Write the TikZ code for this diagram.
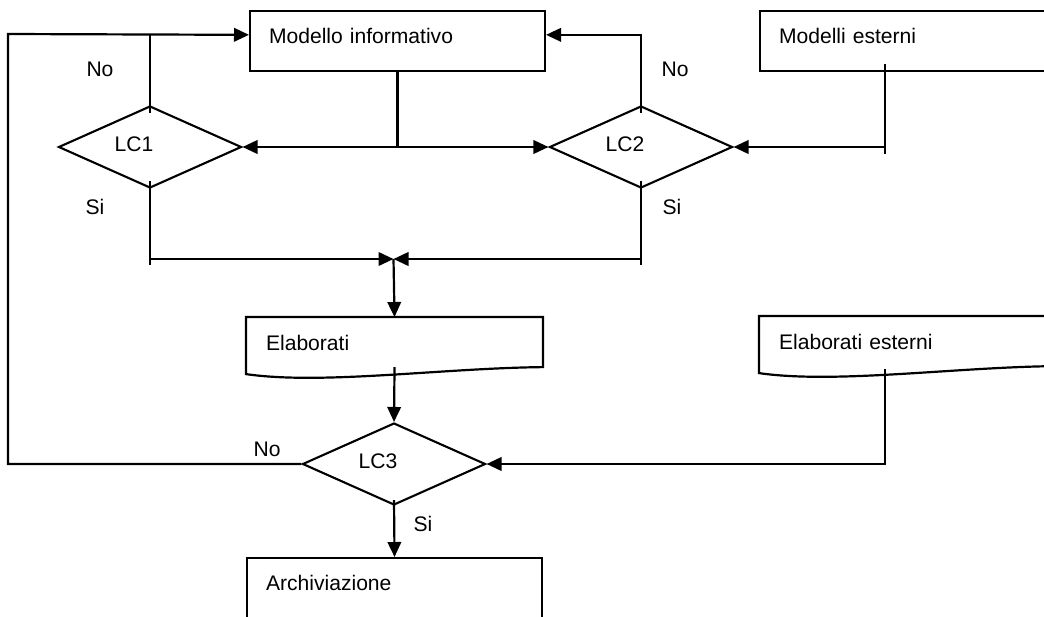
\documentclass[tikz,border=0pt]{standalone}
\usepackage{fontspec}
\setmainfont{Liberation Sans}
\usetikzlibrary{positioning,arrows.meta,shapes.geometric,calc}

\begin{document}
\begin{tikzpicture}[
  x=0.02cm, y=-0.02cm,
  font=\fontsize{12}{14}\selectfont,
  line/.style={draw=black, line width=1.25pt},
  arr/.style={line, -{Triangle[length=0.3cm,width=0.27cm]}},
  box/.style={rectangle, draw=black, line width=1.2pt, anchor=north west, inner xsep=0.38cm, inner ysep=0pt,
    text width=5.14cm, align=left, text height=0.64cm, text depth=0.56cm},
  doc/.style={box, draw=none, text depth=0.32cm},
  dec/.style={diamond, draw=black, line width=1.2pt, minimum width=3.66cm, minimum height=1.64cm, inner sep=0pt,
    label={[xshift=-0.32cm, yshift=0.05cm]center:#1}},
  lbl/.style={inner sep=0pt}
]
\useasboundingbox (0,0) rectangle (1044,616);
\clip (0,0) rectangle (1044,616);

% boxes
\node[box] (mi) at (249,10)  {Modello informativo};
\node[box] (me) at (759,10)  {Modelli esterni};
\node[doc] (el) at (246,317) {Elaborati};
\node[doc] (ee) at (759,316) {Elaborati esterni};
\node[box, text depth=0.9cm] (ar) at (246,557) {Archiviazione};

% document outlines
\draw[line] (el.north west) -- (el.north east) -- (el.south east)
  .. controls ($(el.south east)+(-101,1)$) and ($(el.south east)+(-221,18)$) .. ($(el.south west)+(0,7)$) -- cycle;
\draw[line] (ee.north west) -- (ee.north east) -- (ee.south east)
  .. controls ($(ee.south east)+(-101,1)$) and ($(ee.south east)+(-221,18)$) .. ($(ee.south west)+(0,7)$) -- cycle;

% checks
\node[dec=LC1] (lc1) at (150,147) {};
\node[dec=LC2] (lc2) at (641,147) {};
\node[dec=LC3] (lc3) at (394,464) {};

% labels
\node[lbl] (no1) at (100,69)  {No};
\node[lbl] (no2) at (675,69)  {No};
\node[lbl] (no3) at (267,449) {No};
\node[lbl] (si1) at (95,207)  {Si};
\node[lbl] (si2) at (672,207) {Si};
\node[lbl] (si3) at (423,524) {Si};

\coordinate (miin)  at ($(mi.north west)!0.4!(mi.south west)$);
\coordinate (miin2) at ($(mi.north east)!0.4!(mi.south east)$);
\coordinate (lp)  at (8,34);
\coordinate (j1)  at (mi.south |- lc1.east);
\coordinate (j2)  at (393.5,259);
\coordinate (mes) at ($(me.south west)+(126,-8)$);
\coordinate (ees) at ($(ee.south west)+(126,3)$);

% modello -> LC1, LC2
\draw[line] (mi.south) -- (j1);
\draw[arr] (j1) -- (lc1.east);
\draw[arr] (j1) -- (lc2.west);

% no branches
\draw[line] ($(lc1.north)+(0,8)$) -- (lc1.north |- miin);
\draw[arr] ($(lc2.north)+(0,8)$) |- (miin2);
\draw[arr] (lc3.west) -| (lp) -- (miin);

% modelli esterni
\draw[line] (mes) -- ($(mes |- lc2.east)+(0,7)$);
\draw[arr] (mes |- lc2.east) -- (lc2.east);

% si branches
\draw[line] ($(lc1.south)+(0,-8)$) -- ($(lc1.south |- j2)+(0,6)$);
\draw[line] ($(lc2.south)+(0,-8)$) -- ($(lc2.south |- j2)+(0,6)$);
\draw[arr] (lc1.south |- j2) -- (j2);
\draw[arr] (lc2.south |- j2) -- (j2);
\draw[arr] (j2) -- (el.north);

% elaborati
\draw[arr] (el.south) -- (lc3.north);
\draw[arr] (ees) |- (lc3.east);
\draw[arr] ($(lc3.south)+(0,-6)$) -- (ar.north);
\end{tikzpicture}
\end{document}
